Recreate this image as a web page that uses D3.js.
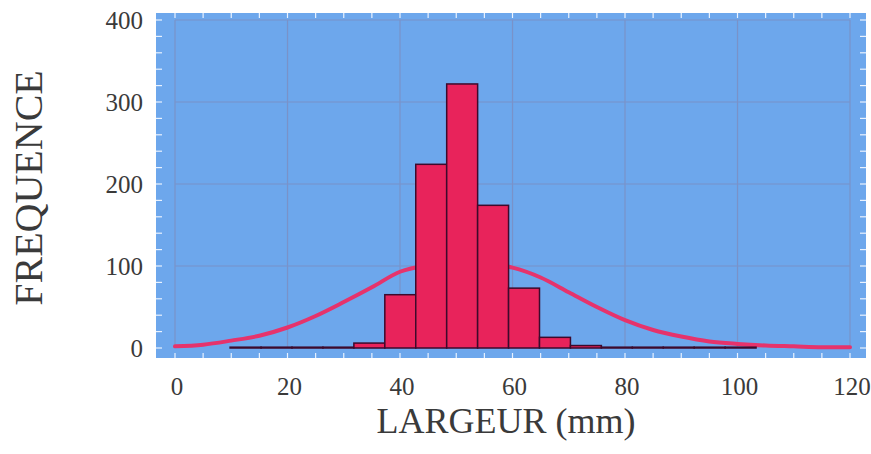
<!DOCTYPE html>
<html>
<head>
<meta charset="utf-8">
<script src="https://cdn.jsdelivr.net/npm/d3@7"></script>
<style>
  html, body { margin: 0; padding: 0; background: #ffffff; }
  svg { display: block; }
  text { font-family: "Liberation Serif", "DejaVu Serif", serif; fill: #3a3a3a; }
</style>
</head>
<body>
<svg id="chart" width="871" height="454"></svg>
<script>
// Histogram bins: lower edge of each class (mm) and class width
const binStarts = [9.8, 15.3, 20.8, 26.3, 31.8, 37.3, 42.8, 48.3, 53.8, 59.3, 64.8, 70.3, 75.8, 81.3, 86.8, 92.3, 97.8];
const binWidth = 5.5;
const frequencies = [1, 1, 1, 1, 6, 65, 224, 322, 174, 73, 13, 3, 1, 1, 1, 1, 1];

// Fitted normal curve read at every 5 mm
const curveX = [0, 5, 10, 15, 20, 25, 30, 35, 40, 45, 50, 55, 60, 65, 70, 75, 80, 85, 90, 95, 100, 105, 110, 115, 120];
const curveY = [2, 4, 9, 15, 25, 39, 56, 74, 93, 101, 104, 103, 98, 86, 68, 50, 34, 22, 14, 8, 5, 3, 2, 1, 1];

// Axis ticks
const xTicks = [0, 20, 40, 60, 80, 100, 120];
const yTicks = [0, 100, 200, 300, 400];

const svg = d3.select("#chart");

const x = d3.scaleLinear().domain([0, 120]).range([175, 850]);
const y = d3.scaleLinear().domain([0, 400]).range([348, 20]);

// Plot panel
const panel = { x0: 156, x1: 866, y0: 13, y1: 358 };
svg.append("rect")
  .attr("x", panel.x0).attr("y", panel.y0)
  .attr("width", panel.x1 - panel.x0).attr("height", panel.y1 - panel.y0)
  .attr("fill", "#6da7ec");

// Grid lines
const grid = svg.append("g").attr("stroke", "#7c8fc4").attr("stroke-width", 1.2).attr("opacity", 0.85);
grid.selectAll("line.v").data(xTicks).join("line")
  .attr("x1", d => x(d)).attr("x2", d => x(d))
  .attr("y1", y(400)).attr("y2", y(0));
grid.selectAll("line.h").data(yTicks.filter(d => d > 0)).join("line")
  .attr("x1", x(0)).attr("x2", x(120))
  .attr("y1", d => y(d)).attr("y2", d => y(d));

// White minor ticks inside the panel border
const minorX = d3.range(0, 121, 5);
const minorY = d3.range(0, 401, 20);
const ticks = svg.append("g").attr("stroke", "#e9f2ff").attr("stroke-width", 1.2);
ticks.selectAll("line.b").data(minorX).join("line")
  .attr("x1", d => x(d)).attr("x2", d => x(d))
  .attr("y1", panel.y1).attr("y2", panel.y1 - 5);
ticks.selectAll("line.t").data(minorX).join("line")
  .attr("x1", d => x(d)).attr("x2", d => x(d))
  .attr("y1", panel.y0).attr("y2", panel.y0 + 5);
ticks.selectAll("line.l").data(minorY).join("line")
  .attr("x1", panel.x0).attr("x2", panel.x0 + 6)
  .attr("y1", d => y(d)).attr("y2", d => y(d));
ticks.selectAll("line.r").data(minorY).join("line")
  .attr("x1", panel.x1).attr("x2", panel.x1 - 6)
  .attr("y1", d => y(d)).attr("y2", d => y(d));

// Normal curve (behind the bars)
const curvePts = curveX.map((d, i) => [d, curveY[i]]);
svg.append("path")
  .datum(curvePts)
  .attr("fill", "none")
  .attr("stroke", "#e6336c")
  .attr("stroke-width", 4)
  .attr("stroke-linecap", "round")
  .attr("d", d3.line().x(d => x(d[0])).y(d => y(d[1])).curve(d3.curveMonotoneX));

// Histogram bars
const bins = binStarts.map((s, i) => ({ x0: s, x1: s + binWidth, n: frequencies[i] }));
svg.append("g").selectAll("rect").data(bins).join("rect")
  .attr("x", d => x(d.x0))
  .attr("y", d => y(d.n))
  .attr("width", d => x(d.x1) - x(d.x0))
  .attr("height", d => y(0) - y(d.n))
  .attr("fill", "#e8235b")
  .attr("stroke", "#3d0a2c")
  .attr("stroke-width", 1.5);

// Tick labels
svg.append("g").selectAll("text").data(xTicks).join("text")
  .attr("x", d => x(d) + 2).attr("y", 395)
  .attr("text-anchor", "middle")
  .attr("font-size", 25)
  .text(d => d);
svg.append("g").selectAll("text").data(yTicks).join("text")
  .attr("x", 143).attr("y", d => y(d))
  .attr("dy", "0.35em")
  .attr("text-anchor", "end")
  .attr("font-size", 25)
  .text(d => d);

// Axis titles
svg.append("text")
  .attr("x", 506).attr("y", 433)
  .attr("text-anchor", "middle")
  .attr("font-size", 36)
  .text("LARGEUR (mm)");
svg.append("text")
  .attr("transform", "translate(42,188) rotate(-90)")
  .attr("text-anchor", "middle")
  .attr("font-size", 40)
  .text("FREQUENCE");
</script>
</body>
</html>
